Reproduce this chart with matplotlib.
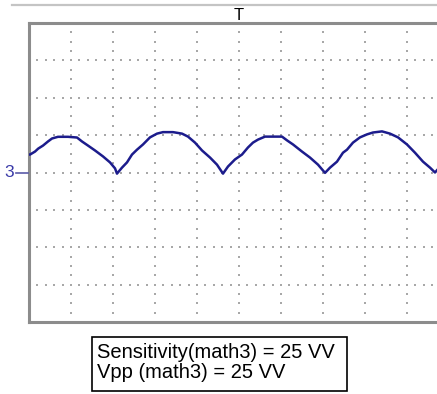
import numpy as np
import matplotlib.pyplot as plt
from matplotlib.patches import Rectangle

plt.rcParams['font.family'] = ['Liberation Sans', 'DejaVu Sans']

# trace of math3 (x in divisions, y in divisions from centre)
t_div = [0.0, 0.024, 0.143, 0.22, 0.333, 0.452, 0.548, 0.69, 0.929, 1.143,
         1.262, 1.405, 1.571, 1.762, 1.929, 2.048, 2.095, 2.214, 2.333, 2.452,
         2.571, 2.714, 2.881, 3.048, 3.19, 3.429, 3.643, 3.786, 3.952, 4.119,
         4.31, 4.476, 4.619, 4.738, 4.905, 5.071, 5.214, 5.333, 5.452, 5.619,
         6.024, 6.143, 6.286, 6.5, 6.69, 6.881, 7.048, 7.167, 7.333, 7.476,
         7.571, 7.714, 7.881, 8.048, 8.19, 8.405, 8.595, 8.786, 9.0, 9.19,
         9.381, 9.548, 9.667, 9.76]
v_div = [0.48, 0.48, 0.56, 0.64, 0.72, 0.83, 0.91, 0.955, 0.955, 0.936,
         0.83, 0.72, 0.59, 0.43, 0.27, 0.11, -0.03, 0.13, 0.27, 0.48,
         0.61, 0.75, 0.94, 1.04, 1.08, 1.08, 1.04, 0.96, 0.80, 0.59,
         0.40, 0.21, -0.03, 0.16, 0.35, 0.48, 0.67, 0.80, 0.88, 0.96,
         0.96, 0.86, 0.75, 0.56, 0.40, 0.21, -0.01, 0.13, 0.29, 0.53,
         0.61, 0.80, 0.94, 1.02, 1.07, 1.10, 1.04, 0.94, 0.75, 0.53,
         0.29, 0.13, 0.0, 0.12]

trace_label = "3"
trigger_label = "T"
info_lines = ["Sensitivity(math3) = 25 VV", "Vpp (math3) = 25 VV"]

W, H = 437, 394
fig = plt.figure(figsize=(W / 100, H / 100), dpi=100)

# screen area: 10 x 8 divisions, right part cut off by the image edge
x0, y0, x1, y1 = 29, 23, 437, 322
ax = fig.add_axes([x0 / W, 1 - y1 / H, (x1 - x0) / W, (y1 - y0) / H])
ax.set_xlim(0, (x1 - x0) / 42)
ax.set_ylim(-4, 4)
ax.set_xticks([])
ax.set_yticks([])
for side in ['left', 'top', 'bottom']:
    ax.spines[side].set_color('#8c8c8c')
    ax.spines[side].set_linewidth(2.2)
ax.spines['right'].set_visible(False)

# dotted graticule
gx = np.arange(0.2, 10, 0.2)
for gy in range(-3, 4):
    ax.scatter(gx, np.full_like(gx, gy), s=1.2, marker='s', color='#a8a8a8',
               linewidths=0, zorder=1)
gy_pts = np.arange(0.25, 8, 0.25) - 4
for vx in range(1, 10):
    ax.scatter(np.full_like(gy_pts, vx), gy_pts, s=1.2, marker='s', color='#a8a8a8',
               linewidths=0, zorder=1)

ax.plot(t_div, v_div, color='#1c1c8c', linewidth=1.8, zorder=3, clip_on=True)

# trace reference marker on the left
ax.annotate(trace_label, xy=(0, 0), xycoords='data', xytext=(-20, 0),
            textcoords='offset pixels', ha='center', va='center',
            fontsize=12.5, color='#3a3aa8', annotation_clip=False)
fig.add_artist(plt.Line2D([16 / W, 28 / W], [1 - 173 / H, 1 - 173 / H],
                          color='#5a5aa8', linewidth=1.2))

# top separator line
fig.add_artist(plt.Line2D([12 / W, 1.0], [1 - 5 / H, 1 - 5 / H],
                          color='#c4c4c4', linewidth=1.6))

# trigger marker above the screen
ax.annotate(trigger_label, xy=(5, 4), xycoords='data', xytext=(0, 2.5),
            textcoords='offset pixels', ha='center', va='baseline',
            fontsize=12, color='black', annotation_clip=False, zorder=5)

# info box
bx0, by0, bx1, by1 = 92, 337, 347, 391
fig.add_artist(Rectangle((bx0 / W, 1 - by1 / H), (bx1 - bx0) / W, (by1 - by0) / H,
                         transform=fig.transFigure, facecolor='white',
                         edgecolor='black', linewidth=1.2))
for i, line in enumerate(info_lines):
    fig.text(97 / W, 1 - (353 + 19 * i) / H, line, fontsize=14.5,
             ha='left', va='center', color='black')

fig.savefig('out.png', dpi=100)
